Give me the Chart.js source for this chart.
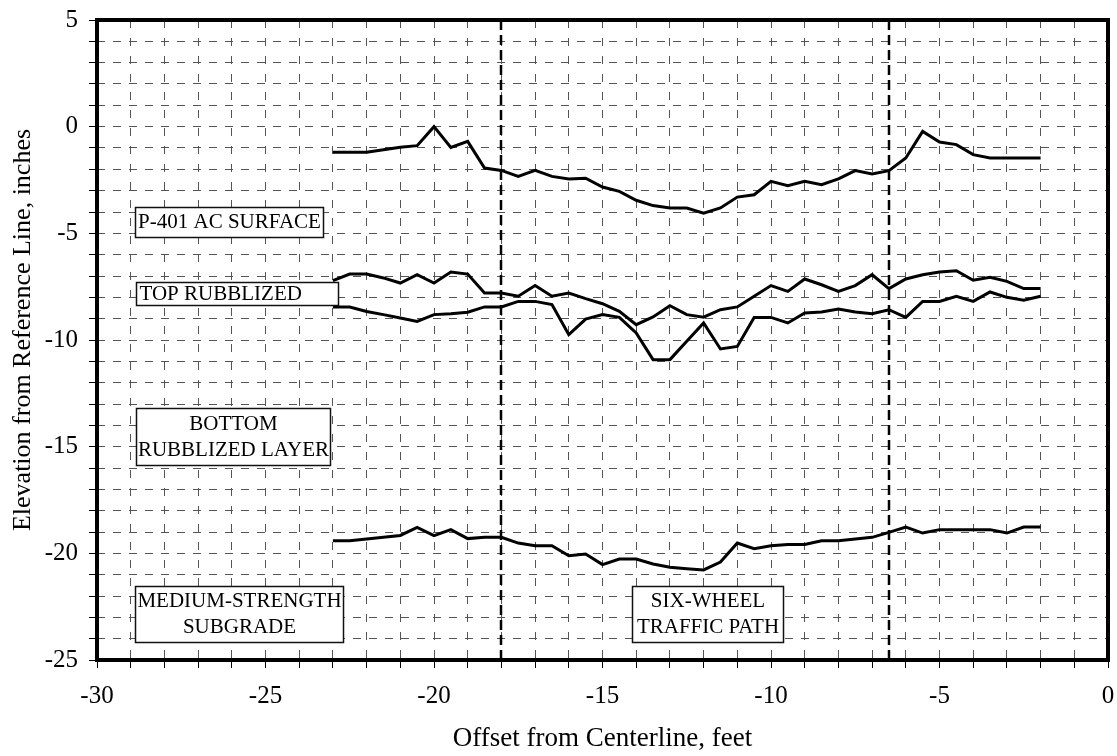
<!DOCTYPE html>
<html>
<head>
<meta charset="utf-8">
<title>Rubblized pavement profile</title>
<script src="https://cdn.jsdelivr.net/npm/chart.js@4.4.1/dist/chart.umd.min.js"></script>
<style>
  html, body { margin: 0; padding: 0; background: #fff; }
  #wrap { width: 1117px; height: 756px; }
</style>
</head>
<body>
<div id="wrap"><canvas id="profileChart" width="1117" height="756"></canvas></div>
<script>
// Offset from centerline (feet) for every survey point
const offsets = [
  -23, -22.5, -22, -21.5, -21, -20.5, -20, -19.5, -19, -18.5, -18,
  -17.5, -17, -16.5, -16, -15.5, -15, -14.5, -14, -13.5, -13,
  -12.5, -12, -11.5, -11, -10.5, -10, -9.5, -9, -8.5, -8,
  -7.5, -7, -6.5, -6, -5.5, -5, -4.5, -4, -3.5, -3,
  -2.5, -2
];

// Layer elevations (inches from reference line)
const acSurface = [
  -1.2, -1.2, -1.2, -1.08, -0.97, -0.89, 0.0, -0.97, -0.69, -1.94, -2.05,
  -2.33, -2.05, -2.33, -2.45, -2.42, -2.83, -3.03, -3.45, -3.7, -3.81,
  -3.81, -4.05, -3.81, -3.3, -3.19, -2.56, -2.77, -2.56, -2.72, -2.45,
  -2.06, -2.22, -2.06, -1.47, -0.22, -0.72, -0.84, -1.31, -1.47, -1.47,
  -1.47, -1.47
];
const topRubblized = [
  -7.22, -6.91, -6.91, -7.09, -7.33, -6.94, -7.33, -6.81, -6.91, -7.8, -7.8,
  -7.95, -7.45, -7.95, -7.8, -8.06, -8.3, -8.66, -9.28, -8.92, -8.39,
  -8.81, -8.93, -8.58, -8.45, -7.95, -7.45, -7.72, -7.14, -7.41, -7.72,
  -7.45, -6.94, -7.59, -7.14, -6.94, -6.81, -6.75, -7.2, -7.06, -7.25,
  -7.59, -7.59
];
const bottomRubblized = [
  -8.45, -8.45, -8.66, -8.81, -8.97, -9.13, -8.81, -8.77, -8.7, -8.45, -8.45,
  -8.19, -8.19, -8.34, -9.75, -9.02, -8.81, -8.94, -9.67, -10.92, -10.92,
  -10.06, -9.2, -10.42, -10.3, -8.94, -8.94, -9.2, -8.73, -8.69, -8.55,
  -8.69, -8.77, -8.58, -8.94, -8.19, -8.19, -7.95, -8.19, -7.75, -8.0,
  -8.14, -7.95
];
const subgrade = [
  -19.41, -19.41, -19.33, -19.25, -19.16, -18.78, -19.17, -18.89, -19.31, -19.25, -19.25,
  -19.52, -19.64, -19.64, -20.11, -20.03, -20.53, -20.27, -20.27, -20.5, -20.65,
  -20.72, -20.78, -20.41, -19.52, -19.78, -19.64, -19.59, -19.59, -19.41, -19.41,
  -19.33, -19.25, -19.02, -18.77, -19.05, -18.89, -18.89, -18.89, -18.89, -19.05,
  -18.77, -18.77
];

// Edges of the six-wheel traffic path (feet)
const pathEdges = [-18, -6.5];

// Labelled ticks
const xLabeled = [-30, -25, -20, -15, -10, -5, 0];
const yLabeled = [5, 0, -5, -10, -15, -20, -25];

// Text boxes, corners in axis units
const labelBoxes = [
  { lines: ['P-401 AC SURFACE'], x0: -28.87, x1: -23.29, y0: -3.77, y1: -5.17 },
  { lines: ['TOP RUBBLIZED'], x0: -28.84, x1: -22.85, y0: -7.28, y1: -8.36, align: 'left' },
  { lines: ['BOTTOM', 'RUBBLIZED LAYER'], x0: -28.84, x1: -23.09, y0: -13.19, y1: -15.86 },
  { lines: ['MEDIUM-STRENGTH', 'SUBGRADE'], x0: -28.87, x1: -22.7, y0: -21.53, y1: -24.16 },
  { lines: ['SIX-WHEEL', 'TRAFFIC PATH'], x0: -14.12, x1: -9.64, y0: -21.53, y1: -24.16 }
];

const serif = "'Liberation Serif', 'Times New Roman', serif";

function toPoints(vals) {
  return offsets.map((x, i) => ({ x: x, y: vals[i] }));
}

const overlayPlugin = {
  id: 'overlay',
  beforeDatasetsDraw(chart) {
    const { ctx, chartArea: a, scales: { x } } = chart;
    ctx.save();
    ctx.strokeStyle = '#000';
    ctx.lineWidth = 2.5;
    ctx.setLineDash([10, 5]);
    pathEdges.forEach(v => {
      const px = Math.round(x.getPixelForValue(v));
      ctx.beginPath();
      ctx.moveTo(px, a.top);
      ctx.lineTo(px, a.bottom);
      ctx.stroke();
    });
    ctx.restore();
  },
  afterDatasetsDraw(chart) {
    const { ctx, chartArea: a, scales: { x, y } } = chart;
    ctx.save();
    ctx.setLineDash([]);
    ctx.font = '21px ' + serif;
    ctx.textBaseline = 'middle';
    labelBoxes.forEach(b => {
      const l = Math.round(x.getPixelForValue(b.x0)) + 0.5;
      const r = Math.round(x.getPixelForValue(b.x1)) + 0.5;
      const t = Math.round(y.getPixelForValue(b.y0)) + 0.5;
      const btm = Math.round(y.getPixelForValue(b.y1)) + 0.5;
      ctx.fillStyle = '#fff';
      ctx.fillRect(l, t, r - l, btm - t);
      ctx.strokeStyle = '#111';
      ctx.lineWidth = 1.5;
      ctx.strokeRect(l, t, r - l, btm - t);
      ctx.fillStyle = '#000';
      const cy = (t + btm) / 2;
      b.lines.forEach((txt, i) => {
        const ty = cy + (i - (b.lines.length - 1) / 2) * 26;
        if (b.align === 'left') {
          ctx.textAlign = 'left';
          ctx.fillText(txt, l + 3, ty);
        } else {
          ctx.textAlign = 'center';
          ctx.fillText(txt, (l + r) / 2, ty);
        }
      });
    });

    // heavy plot frame
    ctx.lineWidth = 4;
    ctx.strokeStyle = '#000';
    ctx.strokeRect(a.left, a.top, a.right - a.left, a.bottom - a.top);

    // axis titles
    ctx.fillStyle = '#000';
    ctx.textAlign = 'center';
    ctx.textBaseline = 'middle';
    ctx.font = '27px ' + serif;
    ctx.fillText('Offset from Centerline, feet', (a.left + a.right) / 2, a.bottom + 79);
    ctx.font = '26px ' + serif;
    ctx.translate(23.5, (a.top + a.bottom) / 2 - 10);
    ctx.rotate(-Math.PI / 2);
    ctx.fillText('Elevation from Reference Line, inches', 0, 0);
    ctx.restore();
  }
};

const lineStyle = {
  borderColor: '#000',
  backgroundColor: '#000',
  borderWidth: 3,
  pointRadius: 0,
  showLine: true,
  tension: 0,
  fill: false
};

const ctx = document.getElementById('profileChart');
new Chart(ctx, {
  type: 'scatter',
  data: {
    datasets: [
      { label: 'P-401 AC Surface', data: toPoints(acSurface), ...lineStyle },
      { label: 'Top Rubblized', data: toPoints(topRubblized), ...lineStyle },
      { label: 'Bottom Rubblized Layer', data: toPoints(bottomRubblized), ...lineStyle },
      { label: 'Medium-Strength Subgrade', data: toPoints(subgrade), ...lineStyle }
    ]
  },
  options: {
    responsive: false,
    animation: false,
    layout: { padding: { top: 20, right: 9, left: 0, bottom: 0 } },
    plugins: {
      legend: { display: false },
      tooltip: { enabled: false }
    },
    scales: {
      x: {
        type: 'linear',
        min: -30,
        max: 0,
        afterFit: s => { s.height = 96; s.paddingLeft = 0; s.paddingRight = 0; },
        ticks: {
          stepSize: 1,
          autoSkip: false,
          maxRotation: 0,
          padding: 13,
          color: '#000',
          font: { family: serif, size: 25 },
          callback: v => xLabeled.includes(v) ? String(v) : ''
        },
        grid: { color: '#555', lineWidth: 1, tickLength: 8, tickColor: '#000', tickWidth: 1 },
        border: { display: false, dash: [8, 10] }
      },
      y: {
        type: 'linear',
        min: -25,
        max: 5,
        afterFit: s => { s.width = 97; s.paddingTop = 0; s.paddingBottom = 0; },
        ticks: {
          stepSize: 1,
          autoSkip: false,
          padding: 11,
          color: '#000',
          font: { family: serif, size: 25 },
          callback: v => yLabeled.includes(v) ? String(v) : ''
        },
        grid: { color: '#555', lineWidth: 1, tickLength: 8, tickColor: '#000', tickWidth: 1 },
        border: { display: false, dash: [8, 8] }
      }
    }
  },
  plugins: [overlayPlugin]
});
</script>
</body>
</html>
